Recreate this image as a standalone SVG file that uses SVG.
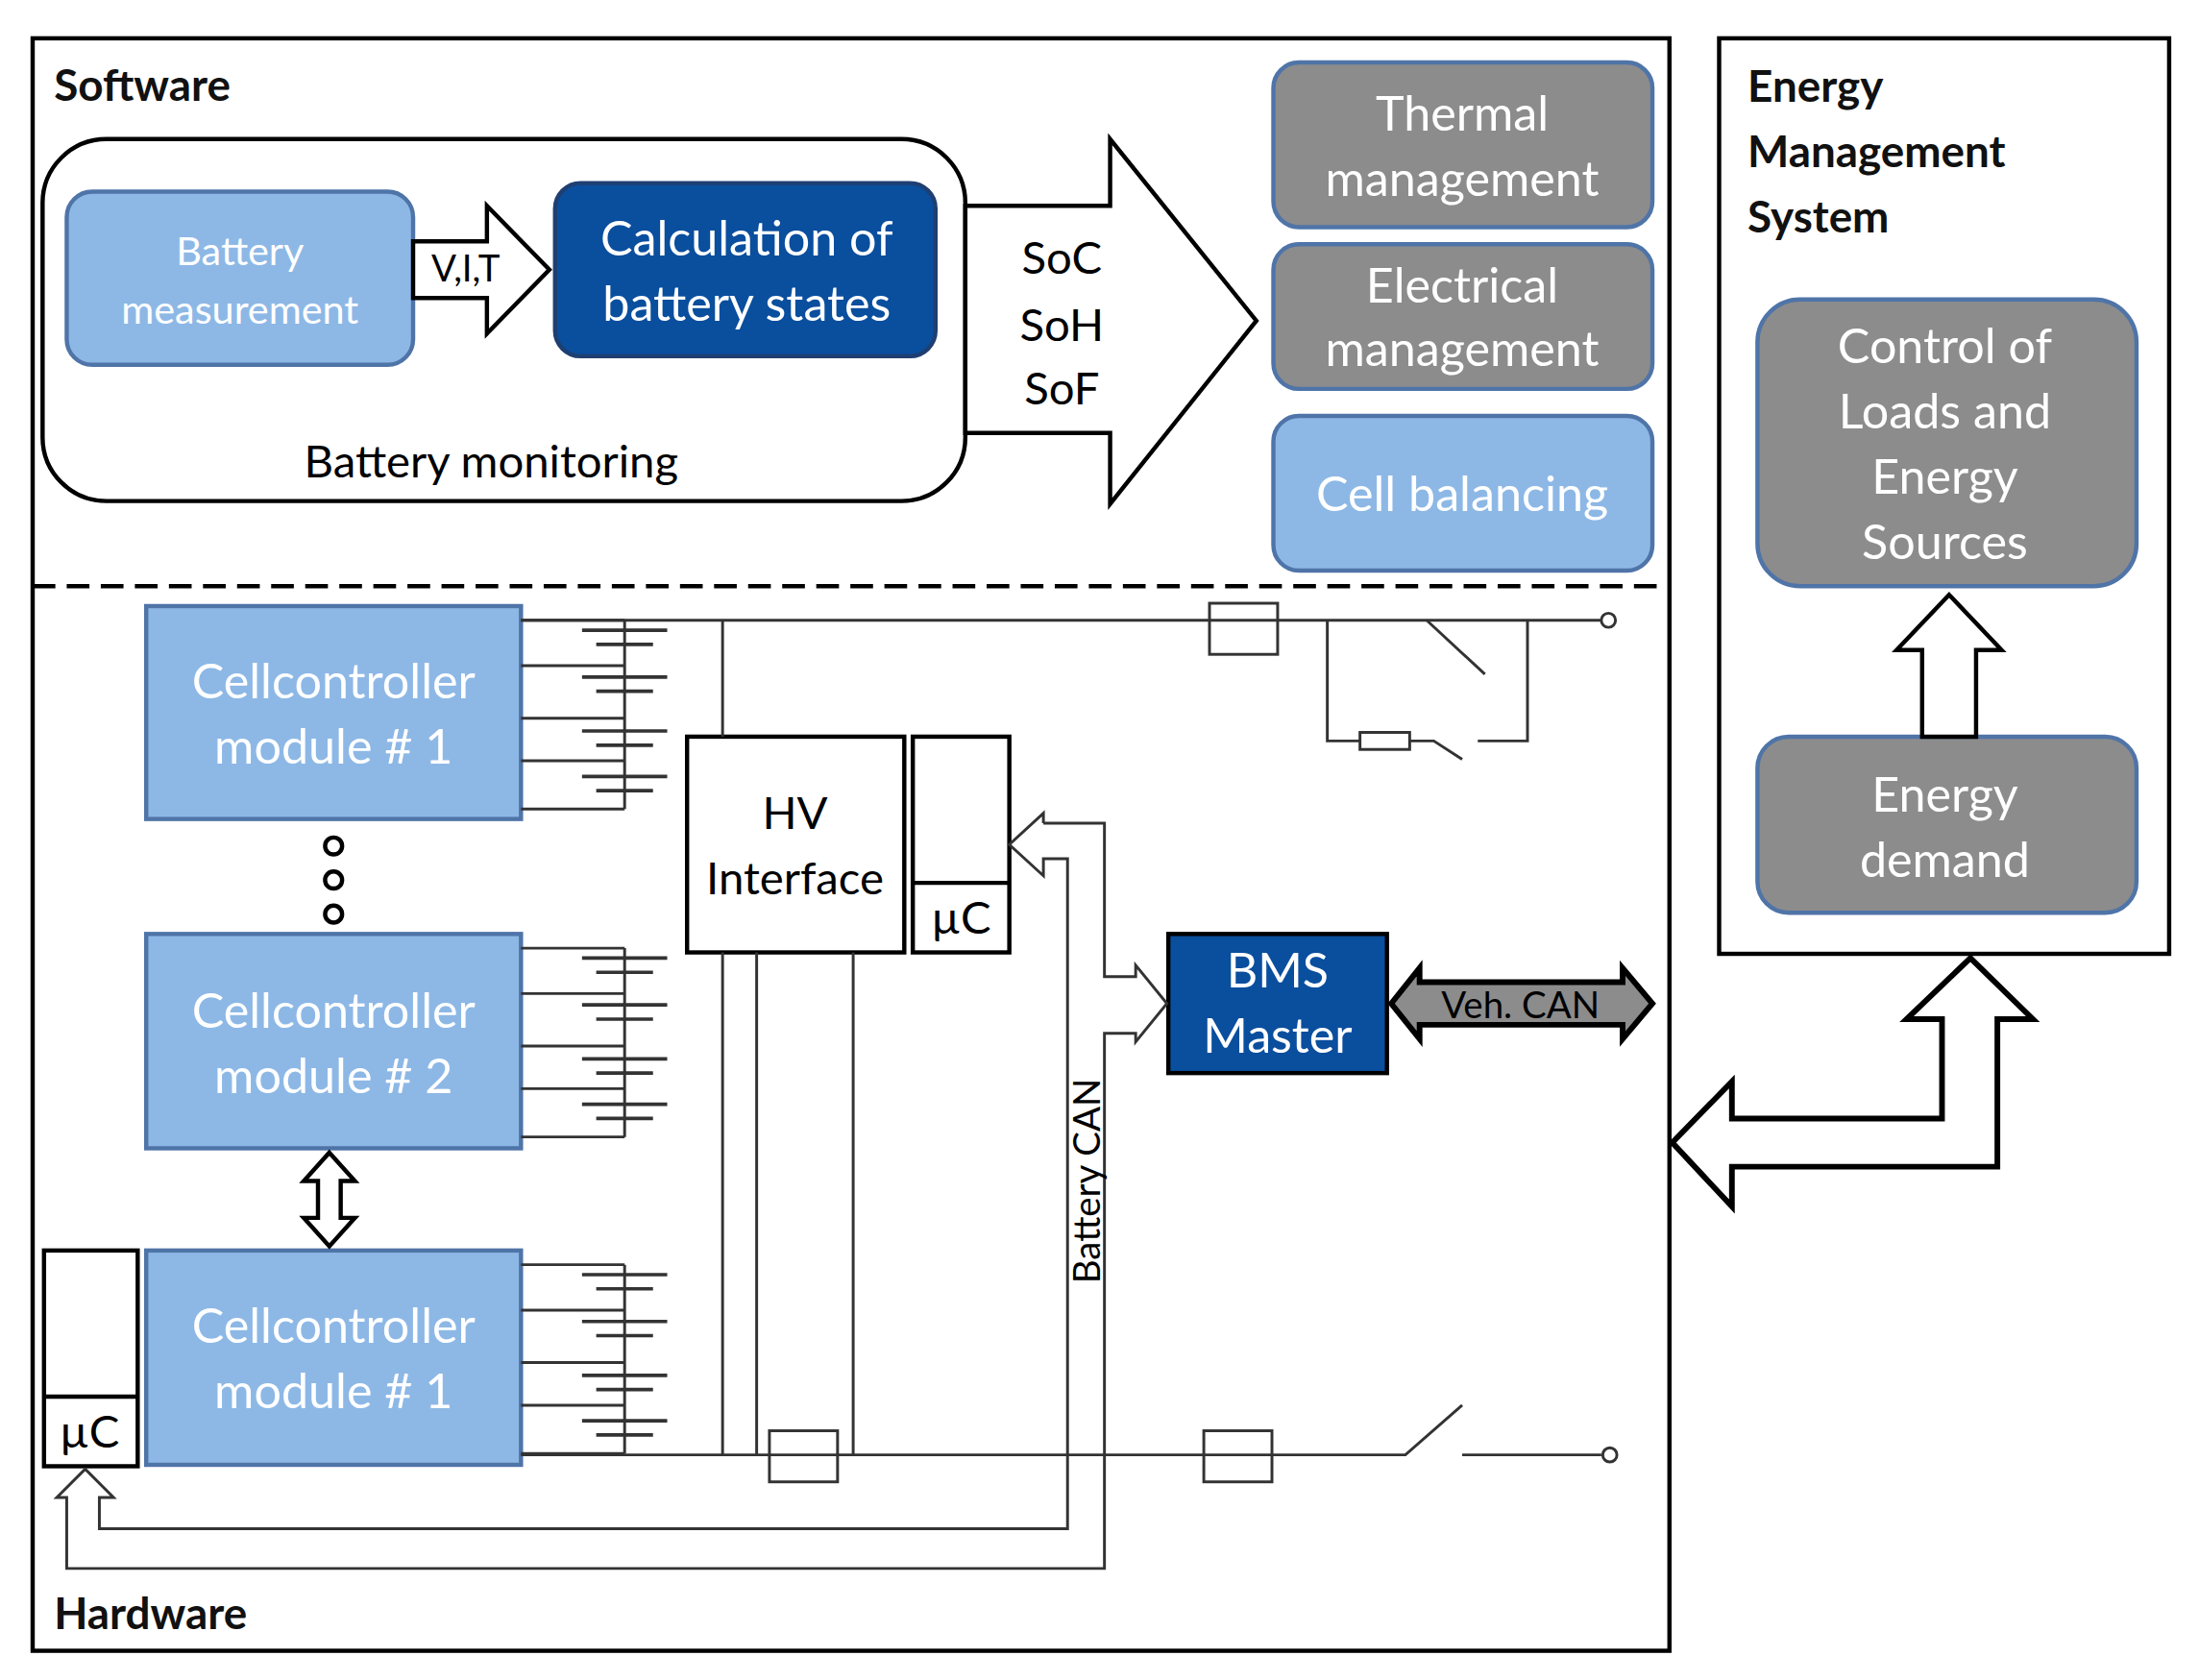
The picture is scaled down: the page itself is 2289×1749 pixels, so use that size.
<svg xmlns="http://www.w3.org/2000/svg" width="2289" height="1749" viewBox="0 0 2289 1749">
<style>
text{font-family:Lato,"Open Sans","Liberation Sans",sans-serif;}
.t{font-size:32px;text-anchor:middle;fill:#000}
.w{font-size:34px;text-anchor:middle;fill:#fff}
.b{font-size:31px;font-weight:bold;fill:#111}
.lb{fill:#8DB8E6;stroke:#4F74A8;stroke-width:3}
.gr{fill:#8C8C8C;stroke:#4F74A8;stroke-width:3}
.db{fill:#0A4E9E;stroke:#1F3F72;stroke-width:3}
.k{fill:none;stroke:#000;stroke-width:3}
.ln{fill:none;stroke:#333;stroke-width:2}
.hb{fill:#fff;stroke:#000;stroke-width:3}
</style>
<defs>
<g id="cells" class="ln">
<path d="M367 10H440M367 42H440M367 79H440M367 109H440M367 143H440M440 10V143"/>
<path d="M410 17H470M420 27H460M410 50H470M420 60H460M410 88H470M420 98H460M410 120H470M420 130H460" stroke-width="2.5"/>
</g>
</defs>
<rect width="2289" height="1749" fill="#fff"/>
<g transform="scale(1.4777)">
<g id="frames">
<rect x="23" y="27" width="1153" height="1136" class="k"/>
<rect x="1211" y="27" width="317" height="645" class="k"/>
<line x1="23" y1="413" x2="1176" y2="413" stroke="#000" stroke-width="3" stroke-dasharray="16,8"/>
<text x="38" y="71" class="b">Software</text>
<text x="38" y="1148" class="b">Hardware</text>
<text x="1231" y="72" class="b">Energy</text>
<text x="1231" y="118" class="b">Management</text>
<text x="1231" y="164" class="b">System</text>
</g>
<g id="monitoring">
<rect x="30" y="98" width="650" height="255" rx="45" class="k"/>
<text x="346" y="336" class="t">Battery monitoring</text>
</g>
<g id="measurement"><rect x="47" y="135" width="244" height="122" rx="18" class="lb"/>
<text x="169" y="187" class="w" font-size="28" style="font-size:28px">Battery</text><text x="169" y="228" class="w" style="font-size:28px">measurement</text></g>
<g id="calc"><rect x="391" y="129" width="268" height="122" rx="18" class="db"/>
<text x="526" y="180" class="w">Calculation of</text><text x="526" y="226" class="w">battery states</text></g>
<g id="thermal"><rect x="897" y="44" width="267" height="116" rx="18" class="gr"/>
<text x="1030" y="92" class="w">Thermal</text><text x="1030" y="138" class="w">management</text></g>
<g id="electrical"><rect x="897" y="172" width="267" height="102" rx="18" class="gr"/>
<text x="1030" y="213" class="w">Electrical</text><text x="1030" y="258" class="w">management</text></g>
<g id="cellbal"><rect x="897" y="293" width="267" height="109" rx="18" class="lb"/>
<text x="1030" y="360" class="w">Cell balancing</text></g>
<g id="control"><rect x="1238" y="211" width="267" height="202" rx="30" class="gr"/>
<text x="1370" y="256" class="w">Control of</text><text x="1370" y="302" class="w">Loads and</text><text x="1370" y="348" class="w">Energy</text><text x="1370" y="394" class="w">Sources</text></g>
<g id="demand"><rect x="1238" y="519" width="267" height="124" rx="22" class="gr"/>
<text x="1370" y="572" class="w">Energy</text><text x="1370" y="618" class="w">demand</text></g>
<g id="cc1"><rect x="103" y="427" width="264" height="150" class="lb" stroke="#000"/>
<text x="235" y="492" class="w">Cellcontroller</text><text x="235" y="538" class="w">module # 1</text></g>
<g id="cc2"><rect x="103" y="658" width="264" height="151" class="lb" stroke="#000"/>
<text x="235" y="724" class="w">Cellcontroller</text><text x="235" y="770" class="w">module # 2</text></g>
<g id="cc3"><rect x="103" y="881" width="264" height="151" class="lb" stroke="#000"/>
<text x="235" y="946" class="w">Cellcontroller</text><text x="235" y="992" class="w">module # 1</text></g>
<g id="uc1"><rect x="31" y="881" width="66" height="152" class="hb"/><line x1="31" y1="984" x2="97" y2="984" stroke="#000" stroke-width="3"/>
<text x="63" y="1020" class="t">µC</text></g>
<g id="hv"><rect x="484" y="519" width="153" height="152" class="hb"/>
<text x="560" y="584" class="t">HV</text><text x="560" y="630" class="t">Interface</text></g>
<g id="uc2"><rect x="643" y="519" width="68" height="152" class="hb"/><line x1="643" y1="622" x2="711" y2="622" stroke="#000" stroke-width="3"/>
<text x="677" y="658" class="t">µC</text></g>
<g id="bms"><rect x="823" y="658" width="154" height="98" fill="#0A4E9E" stroke="#000" stroke-width="3"/>
<text x="900" y="696" class="w">BMS</text><text x="900" y="742" class="w">Master</text></g>
<g id="connectors">
<use href="#cells" y="427"/><use href="#cells" y="658"/><use href="#cells" y="881"/>
<g fill="#fff" stroke="#000" stroke-width="3"><circle cx="235" cy="596" r="6"/><circle cx="235" cy="620" r="6"/><circle cx="235" cy="644" r="6"/></g>
<polygon points="232,812 250,832 240,832 240,858 250,858 232,878 214,858 224,858 224,832 214,832" class="hb"/>
<polygon points="291,170 343,170 343,145 387,190 343,235 343,210 291,210" class="hb"/>
<text x="328" y="198" class="t" style="font-size:26px">V,I,T</text>
<polygon points="680,145 782,145 782,98 885,226 782,355 782,305 680,305" class="hb"/>
<text x="748" y="193" class="t">SoC</text><text x="748" y="240" class="t">SoH</text><text x="748" y="285" class="t">SoF</text>
<polygon points="1373,419 1410,458 1392,458 1392,519 1354,519 1354,458 1336,458" class="hb"/>
<polygon points="1178,805 1220,762 1220,788 1368,788 1368,718 1343,718 1388,675 1432,718 1407,718 1407,822 1220,822 1220,850" fill="#fff" stroke="#000" stroke-width="4"/>
<polygon points="980,707 1000,682 1000,692 1143,692 1143,682 1164,707 1143,732 1143,722 1000,722 1000,732" fill="#8C8C8C" stroke="#000" stroke-width="4"/>
<text x="1071" y="717" class="t" style="font-size:26px">Veh. CAN</text>
<path class="ln" d="M367 437H1128M509 437V519M509 671V1025M533 671V1025M601 671V1025M367 1025H990L1030 990M1030 1025H1128"/>
<path class="ln" d="M935 437V522H958M993 522H1010L1030 535M1041 522H1076V437M1005 437L1046 475"/>
<rect x="852" y="425" width="48" height="36" class="ln" fill="#fff"/>
<rect x="958" y="516" width="35" height="12" class="ln" fill="#fff"/>
<rect x="542" y="1008" width="48" height="36" class="ln" fill="#fff"/>
<rect x="848" y="1008" width="48" height="36" class="ln" fill="#fff"/>
<circle cx="1133" cy="437" r="5" class="ln" fill="#fff"/><circle cx="1134" cy="1025" r="5" class="ln" fill="#fff"/>
<path class="ln" d="M735 580H778V688H800V680L822 707L800 734V728H778V1105H47V1055H40L60 1035L80 1055H70V1077H752V605H735V617L711 595L735 573V580"/>
<text transform="translate(775,832) rotate(-90)" class="t" style="font-size:26px">Battery CAN</text>
</g>
</g>
</svg>
